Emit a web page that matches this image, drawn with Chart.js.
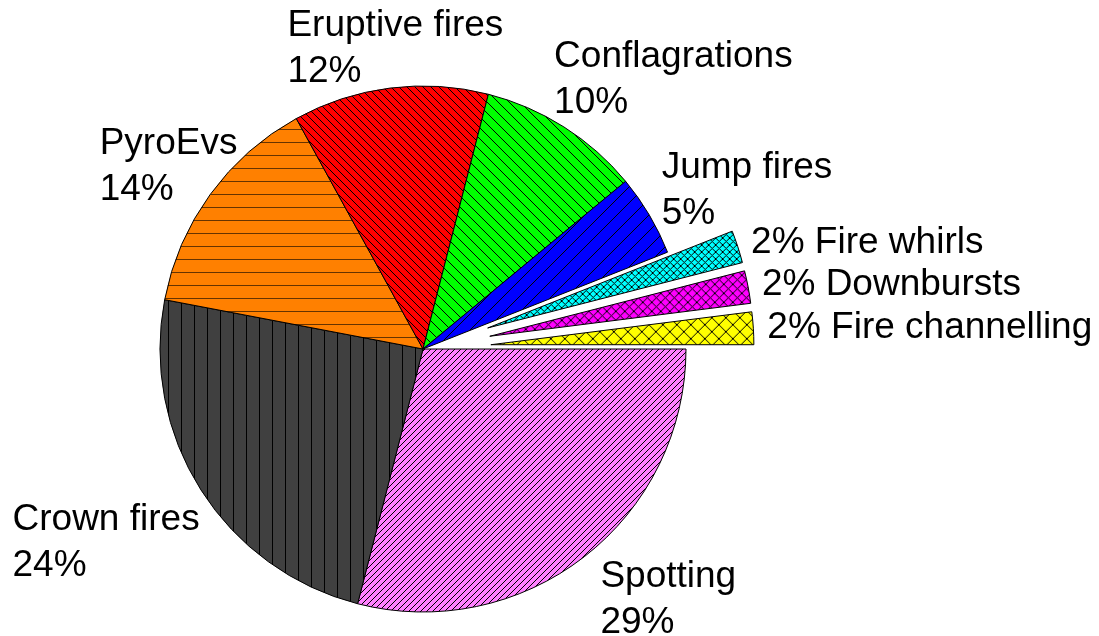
<!DOCTYPE html>
<html lang="en">
<head>
<meta charset="UTF-8">
<title>Fire behaviour types</title>
<script src="https://cdn.jsdelivr.net/npm/chart.js"></script>
<style>
  html, body { margin: 0; padding: 0; background: #fff; }
</style>
</head>
<body>
<canvas id="pieChart" width="1099" height="636"></canvas>
<script>
  // data
  const categories = ['Spotting', 'Crown fires', 'PyroEvs', 'Eruptive fires', 'Conflagrations',
    'Jump fires', 'Fire whirls', 'Downbursts', 'Fire channelling'];
  const shares = [29, 24, 14, 12, 10, 5, 2, 2, 2];
  const exploded = [false, false, false, false, false, false, true, true, true];

  // look
  const EXPLODE = 68;
  const RADIUS = 263;
  const FONT = '37px "Liberation Sans", Arial, sans-serif';
  const LINE = 46;
  // fill colour, hatch kind, tile size
  const hatchStyle = [
    ['#ff80ff', 'fwd', 6],
    ['#404040', 'v', 13],
    ['#ff8000', 'h', 13],
    ['#ff0000', 'back', 8],
    ['#00ff00', 'back', 11],
    ['#0000ff', 'fwd', 16],
    ['#00ffff', 'cross', 7],
    ['#ff00ff', 'cross', 9],
    ['#ffff00', 'cross', 14]
  ];
  // label nudge (left edge / first baseline) from the 1.2 R anchor
  const labelShift = [[-16, -11], [-144, 12], [-68, -9], [-96, 0], [-38, -16], [-33, -10]];

  const canvas = document.getElementById('pieChart');
  const mainCtx = canvas.getContext('2d');

  function hatch(color, kind, size) {
    const c = document.createElement('canvas');
    c.width = size;
    c.height = size;
    const g = c.getContext('2d');
    g.fillStyle = color;
    g.fillRect(0, 0, size, size);
    g.strokeStyle = kind === 'h' ? 'rgba(0,0,0,0.6)' : '#000';
    g.lineWidth = 1;
    g.beginPath();
    if (kind === 'h') { g.moveTo(0, size - 0.5); g.lineTo(size, size - 0.5); }
    if (kind === 'v') { g.moveTo(size - 0.5, 0); g.lineTo(size - 0.5, size); }
    for (const k of [-1, 0, 1]) {
      if (kind === 'back' || kind === 'cross') { g.moveTo(k * size, 0); g.lineTo(k * size + size, size); }
      if (kind === 'fwd' || kind === 'cross') { g.moveTo(k * size, size); g.lineTo(k * size + size, 0); }
    }
    g.stroke();
    return mainCtx.createPattern(c, 'repeat');
  }

  const fills = hatchStyle.map(s => hatch(s[0], s[1], s[2]));

  const explodePlugin = {
    id: 'explode',
    beforeDatasetDraw(chart, args) {
      const ctx = chart.ctx;
      args.meta.data.forEach((arc, i) => {
        ctx.save();
        if (exploded[i]) {
          const mid = (arc.startAngle + arc.endAngle) / 2;
          ctx.translate(Math.cos(mid) * EXPLODE, Math.sin(mid) * EXPLODE);
        }
        arc.draw(ctx, chart.chartArea);
        ctx.restore();
      });
      return false;
    }
  };

  const labelPlugin = {
    id: 'sliceLabels',
    afterDraw(chart) {
      const ctx = chart.ctx;
      const arcs = chart.getDatasetMeta(0).data;
      ctx.save();
      ctx.font = FONT;
      ctx.fillStyle = '#000';
      ctx.textAlign = 'left';
      arcs.forEach((arc, i) => {
        const p = arc.getProps(['x', 'y', 'startAngle', 'endAngle', 'outerRadius'], true);
        const mid = (p.startAngle + p.endAngle) / 2;
        if (exploded[i]) {
          const r = p.outerRadius + EXPLODE + 14;
          ctx.textBaseline = 'middle';
          ctx.fillText(shares[i] + '% ' + categories[i], p.x + Math.cos(mid) * r, p.y + Math.sin(mid) * r);
        } else {
          const r = p.outerRadius * 1.2;
          const lx = p.x + Math.cos(mid) * r + labelShift[i][0];
          const ly = p.y + Math.sin(mid) * r + labelShift[i][1];
          ctx.textBaseline = 'alphabetic';
          ctx.fillText(categories[i], lx, ly);
          ctx.fillText(shares[i] + '%', lx, ly + LINE);
        }
      });
      ctx.restore();
    }
  };

  new Chart(canvas, {
    type: 'pie',
    data: {
      labels: categories,
      datasets: [{
        data: shares,
        backgroundColor: fills,
        borderColor: '#000',
        borderWidth: 1,
        radius: RADIUS
      }]
    },
    options: {
      responsive: false,
      animation: false,
      events: [],
      rotation: 90,
      layout: { padding: { left: 0, right: 253, top: 62, bottom: 0 } },
      plugins: {
        legend: { display: false },
        tooltip: { enabled: false }
      }
    },
    plugins: [explodePlugin, labelPlugin]
  });
</script>
</body>
</html>
